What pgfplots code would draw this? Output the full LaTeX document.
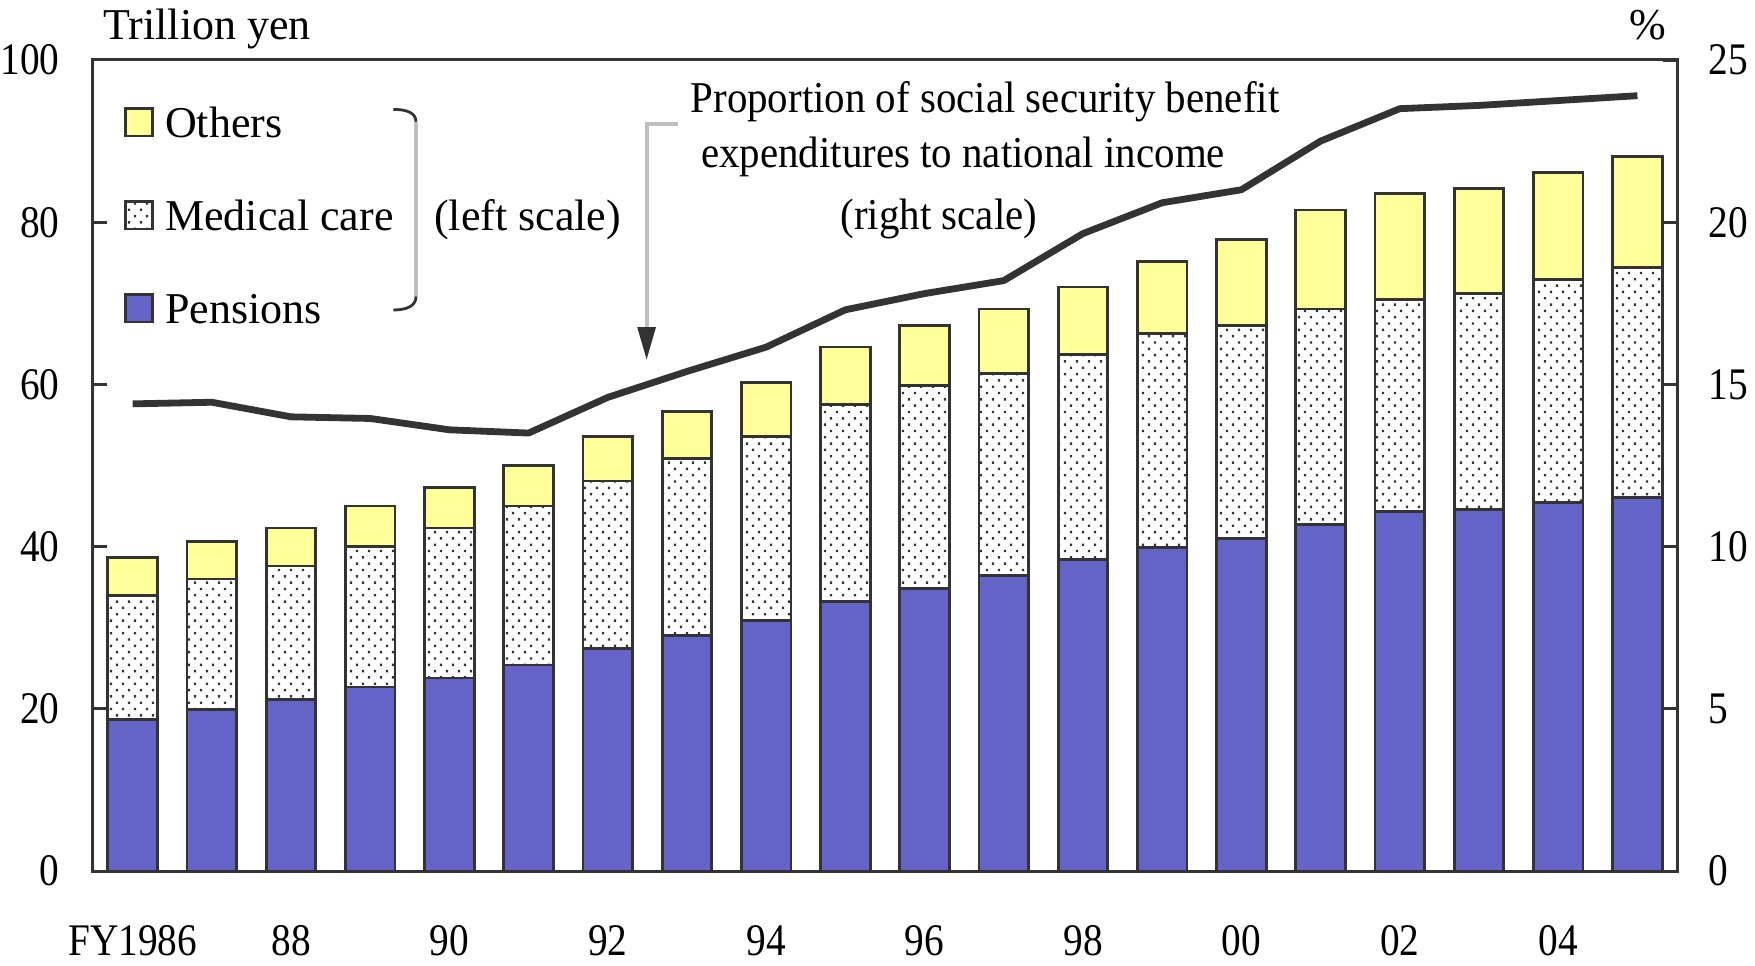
\documentclass[border=0pt]{standalone}
\usepackage{fontspec}
\setmainfont{Liberation Serif}
\newfontfamily\condfont[FakeStretch=0.93]{Liberation Serif}
\newfontfamily\tickfont[FakeStretch=0.87]{Liberation Serif}
\usepackage{pgfplots}
\usepackage{pgfplotstable}
\pgfplotsset{compat=1.18}
\usetikzlibrary{patterns,arrows.meta}

\definecolor{axiscol}{HTML}{333333}
\definecolor{pencol}{HTML}{6464C8}
\definecolor{othcol}{HTML}{FFFF99}
\definecolor{bracketgray}{HTML}{BFBFBF}

\newcommand\fs{\fontsize{11}{13.2}\selectfont}
\newcommand\cf{\fontsize{11}{13.2}\selectfont\condfont}
\newcommand\tf{\fontsize{11.3}{13.5}\selectfont\tickfont}

\pgfdeclarepatternformonly{meddots}{\pgfqpoint{-0.1pt}{-0.1pt}}{\pgfqpoint{3.1pt}{3.26pt}}{\pgfqpoint{3pt}{3.16pt}}{%
  \pgfpathrectangle{\pgfqpoint{0.45pt}{0.49pt}}{\pgfqpoint{0.6pt}{0.6pt}}%
  \pgfpathrectangle{\pgfqpoint{1.95pt}{2.07pt}}{\pgfqpoint{0.6pt}{0.6pt}}%
  \pgfusepath{fill}%
}

\pgfplotstableread{
x pen med oth
0 18.7 15.3 4.7
1 19.9 16.1 4.65
2 21.1 16.5 4.7
3 22.7 17.3 5.0
4 23.8 18.5 5.0
5 25.4 19.6 5.0
6 27.4 20.7 5.5
7 29.0 21.9 5.8
8 30.9 22.7 6.6
9 33.2 24.3 7.1
10 34.8 25.1 7.4
11 36.4 24.9 8.0
12 38.4 25.3 8.3
13 39.9 26.4 8.9
14 41.0 26.3 10.6
15 42.7 26.6 12.2
16 44.3 26.2 13.0
17 44.6 26.6 13.0
18 45.4 27.5 13.2
19 46.1 28.3 13.7
}\bars

\pgfplotstableread{
x pct
0 14.4
1 14.45
2 14.0
3 13.95
4 13.6
5 13.5
6 14.6
7 15.4
8 16.15
9 17.3
10 17.8
11 18.2
12 19.65
13 20.6
14 21.0
15 22.5
16 23.5
17 23.6
18 23.75
19 23.9
}\ratio

\begin{document}
\begin{tikzpicture}
\useasboundingbox (-23.25pt,-23.5pt) rectangle (415.5pt,217.75pt);
\begin{axis}[
  at={(0pt,0pt)}, anchor=south west,
  width=396pt, height=202.75pt, scale only axis,
  xmin=-0.5, xmax=19.5, ymin=0, ymax=100,
  ybar stacked, bar width=0.625,
  axis line style={draw=axiscol, line width=0.75pt},
  xtick={0,2,...,18},
  xticklabels={FY1986,88,90,92,94,96,98,00,02,04},
  xtick style={draw=none},
  ytick={0,20,...,100}, ytick pos=left, tick align=inside,
  ytick style={draw=axiscol, line width=0.75pt},
  major tick length=3.5pt,
  /pgf/number format/assume math mode=true,
  xticklabel style={font=\tf, anchor=base, inner sep=0pt, yshift=-21pt},
  yticklabel style={font=\tf, anchor=east, inner sep=0pt, xshift=-8.2pt},
  legend entries={Pensions,Medical care,Others},
  reverse legend,
  legend cell align=left,
  legend style={draw=none, fill=none,
    at={(axis description cs:0.01944,0.94328)}, anchor=north west,
    inner sep=0pt, outer sep=0pt, row sep=12.25pt, font=\fs,
    nodes={inner sep=0pt, text height=8pt, text depth=3pt}},
  legend image code/.code={%
    \draw[#1, line width=0.7pt] (0pt,-2pt) rectangle (6.8pt,4.8pt);
    \path[draw=none, fill=none] (0pt,0pt) -- (10pt,0pt);},
]
\addplot[fill=pencol, draw=axiscol, line width=0.7pt] table[x=x, y=pen] {\bars};
\addplot[pattern=meddots, pattern color=axiscol, draw=axiscol, line width=0.7pt] table[x=x, y=med] {\bars};
\addplot[fill=othcol, draw=axiscol, line width=0.7pt] table[x=x, y=oth] {\bars};
\end{axis}
\begin{axis}[
  at={(0pt,0pt)}, anchor=south west,
  width=396pt, height=202.75pt, scale only axis,
  xmin=-0.5, xmax=19.5, ymin=0, ymax=25,
  axis x line=none, axis y line*=right,
  axis line style={draw=axiscol, line width=0.75pt},
  ytick={0,5,...,25}, tick align=inside, major tick length=3.5pt,
  ytick style={draw=axiscol, line width=0.75pt},
  /pgf/number format/assume math mode=true,
  yticklabel style={font=\tf, anchor=west, inner sep=0pt, xshift=7.75pt},
]
\addplot[draw=axiscol, line width=1.7pt, mark=none, line join=round] table[x=x, y=pct] {\ratio};
\end{axis}

% annotations
\node[anchor=base west, inner sep=0pt, font=\fs] at (2.4pt,207.75pt) {Trillion yen};
\node[anchor=base east, inner sep=0pt, font=\fs] at (393.5pt,207.9pt) {\%};
\draw[bracketgray, line width=1pt] (80.75pt,187.3pt) -- (80.75pt,143.6pt);
\draw[axiscol, line width=0.7pt] (75.1pt,190.4pt) .. controls (78.5pt,190.4pt) and (80.75pt,189.5pt) .. (80.75pt,187.3pt);
\draw[axiscol, line width=0.7pt] (80.75pt,143.6pt) .. controls (80.75pt,141.3pt) and (78.5pt,140.25pt) .. (75.1pt,140.25pt);
\node[anchor=base west, inner sep=0pt, font=\fs] at (85.1pt,160.1pt) {(left scale)};
\draw[bracketgray, line width=1pt, -{Triangle[length=8.2pt,width=4.4pt,color=axiscol]}] (146.2pt,186.8pt) -- (138.4pt,186.8pt) -- (138.4pt,127.75pt);
\node[anchor=base, inner sep=0pt, font=\cf] at (223pt,189.5pt) {Proportion of social security benefit};
\node[anchor=base, inner sep=0pt, font=\cf] at (217.5pt,175.75pt) {expenditures to national income};
\node[anchor=base, inner sep=0pt, font=\cf] at (211.5pt,160.25pt) {(right scale)};
\end{tikzpicture}
\end{document}
